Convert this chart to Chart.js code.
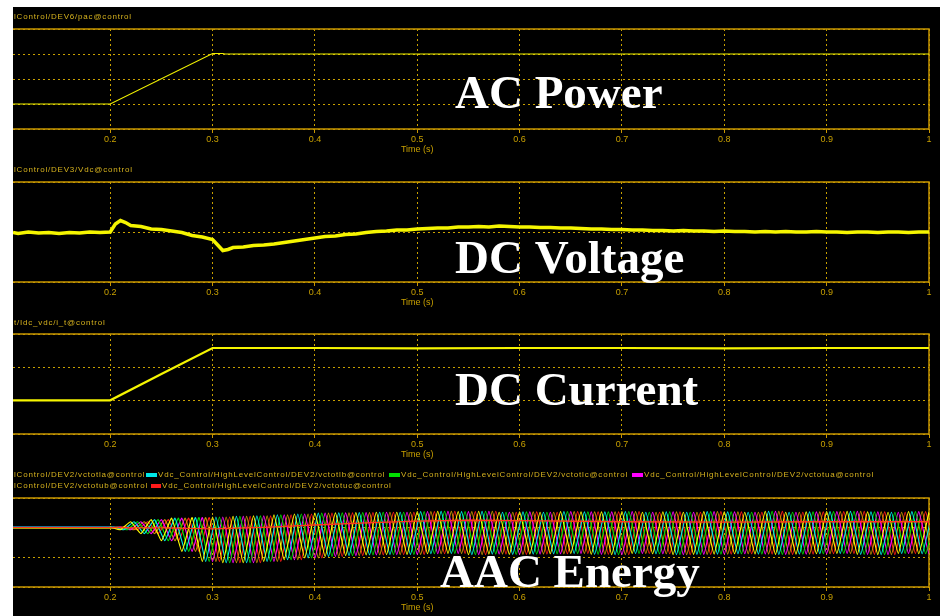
<!DOCTYPE html>
<html>
<head>
<meta charset="utf-8">
<script src="https://cdn.jsdelivr.net/npm/chart.js@4.4.0/dist/chart.umd.min.js"></script>
<style>
  body { margin: 0; background: #fff; width: 941px; height: 616px; overflow: hidden; position: relative; font-family: 'Liberation Sans', Arial, sans-serif; }
  .scope { position: absolute; left: 13px; top: 7px; width: 927px; height: 609px; background: #000; }
  canvas { position: absolute; left: 0; }
  .sig { position: absolute; font-size: 8px; line-height: 10px; letter-spacing: 0.8px; color: #d6b21e; white-space: nowrap; }
  .swatch { position: absolute; height: 4px; width: 11px; }
</style>
</head>
<body>
<div class="scope"></div>

<canvas id="acPower" width="941" height="150" style="top:10px"></canvas>
<canvas id="dcVoltage" width="941" height="152" style="top:160px"></canvas>
<canvas id="dcCurrent" width="941" height="152" style="top:312px"></canvas>
<canvas id="aacEnergy" width="941" height="152" style="top:464px"></canvas>

<div class="sig" style="left:14px;top:12px">lControl/DEV6/pac@control</div>
<div class="sig" style="left:14px;top:165px">lControl/DEV3/Vdc@control</div>
<div class="sig" style="left:14px;top:318px">t/Idc_vdc/i_t@control</div>

<div class="sig" style="left:14px;top:470px">lControl/DEV2/vctotla@control</div>
<div class="swatch" style="left:146px;top:473px;background:#00e8e8"></div>
<div class="sig" style="left:158px;top:470px">Vdc_Control/HighLevelControl/DEV2/vctotlb@control</div>
<div class="swatch" style="left:389px;top:473px;background:#00e000"></div>
<div class="sig" style="left:401px;top:470px">Vdc_Control/HighLevelControl/DEV2/vctotlc@control</div>
<div class="swatch" style="left:632px;top:473px;background:#ff00ff"></div>
<div class="sig" style="left:644px;top:470px">Vdc_Control/HighLevelControl/DEV2/vctotua@control</div>
<div class="sig" style="left:14px;top:481px">lControl/DEV2/vctotub@control</div>
<div class="swatch" style="left:151px;top:484px;width:10px;background:#ff1a1a"></div>
<div class="sig" style="left:162px;top:481px">Vdc_Control/HighLevelControl/DEV2/vctotuc@control</div>

<script>
// Time axis
const xTicks = [0.2, 0.3, 0.4, 0.5, 0.6, 0.7, 0.8, 0.9, 1.0]
const xTickLabels = ['0.2', '0.3', '0.4', '0.5', '0.6', '0.7', '0.8', '0.9', '1']

// AC power
const acTime = [0.105, 0.2, 0.3, 0.31, 0.312, 1.0]
const acValues = [1.0, 1.0, 3.02, 3.02, 3.0, 3.0]

// DC voltage
const vdcTime = [0.105, 0.11, 0.12, 0.13, 0.14, 0.15, 0.16, 0.17, 0.18, 0.19,
  0.2, 0.205, 0.21, 0.215, 0.22, 0.23, 0.24, 0.25, 0.26, 0.27, 0.28, 0.29,
  0.3, 0.305, 0.31, 0.315, 0.32, 0.33, 0.34, 0.35, 0.36, 0.37, 0.38, 0.39,
  0.4, 0.41, 0.42, 0.43, 0.44, 0.45, 0.46, 0.47, 0.48, 0.49,
  0.5, 0.51, 0.52, 0.53, 0.54, 0.55, 0.56, 0.57, 0.58, 0.59,
  0.6, 0.61, 0.62, 0.63, 0.64, 0.65, 0.66, 0.67, 0.68, 0.69,
  0.7, 0.71, 0.72, 0.73, 0.74, 0.75, 0.76, 0.77, 0.78, 0.79,
  0.8, 0.81, 0.82, 0.83, 0.84, 0.85, 0.86, 0.87, 0.88, 0.89,
  0.9, 0.91, 0.92, 0.93, 0.94, 0.95, 0.96, 0.97, 0.98, 0.99, 1.0]
const vdcValues = [0.99, 0.97, 1.0, 0.98, 0.99, 0.97, 0.99, 0.98, 1.0, 0.99,
  1.0, 1.16, 1.23, 1.19, 1.13, 1.11, 1.06, 1.05, 1.02, 0.99, 0.93, 0.9,
  0.85, 0.74, 0.63, 0.65, 0.69, 0.7, 0.73, 0.74, 0.76, 0.79, 0.82, 0.85,
  0.88, 0.91, 0.92, 0.95, 0.96, 0.99, 1.01, 1.02, 1.04, 1.04,
  1.06, 1.07, 1.08, 1.08, 1.1, 1.1, 1.11, 1.1, 1.12, 1.11,
  1.1, 1.1, 1.09, 1.09, 1.08, 1.08, 1.07, 1.06, 1.06, 1.05,
  1.05, 1.04, 1.04, 1.03, 1.03, 1.02, 1.03, 1.02, 1.02, 1.01,
  1.02, 1.01, 1.01, 1.0, 1.01, 1.0, 1.01, 1.0, 1.0, 1.01,
  1.0, 1.0, 0.99, 1.0, 1.0, 0.99, 1.0, 1.0, 0.99, 1.0, 1.0]

// DC current
const idcTime = [0.105, 0.15, 0.2, 0.25, 0.3, 0.4, 0.5, 0.6, 0.7, 0.8, 0.9, 1.0]
const idcValues = [1.01, 1.01, 1.01, 1.8, 2.58, 2.58, 2.57, 2.58, 2.58, 2.57, 2.58, 2.58]

// Arm energies: peak / trough envelope every half cycle (50 Hz)
const aacTime = [0.2, 0.21, 0.22, 0.23, 0.24, 0.25, 0.26, 0.27, 0.28, 0.29,
  0.3, 0.31, 0.32, 0.33, 0.34, 0.35, 0.36, 0.37, 0.38, 0.39,
  0.4, 0.41, 0.42, 0.43, 0.44, 0.45, 0.46, 0.47, 0.48, 0.49,
  0.5, 0.51, 0.52, 0.53, 0.54, 0.55, 0.56, 0.57, 0.58, 0.59,
  0.6, 0.61, 0.62, 0.63, 0.64, 0.65, 0.66, 0.67, 0.68, 0.69,
  0.7, 0.71, 0.72, 0.73, 0.74, 0.75, 0.76, 0.77, 0.78, 0.79,
  0.8, 0.81, 0.82, 0.83, 0.84, 0.85, 0.86, 0.87, 0.88, 0.89,
  0.9, 0.91, 0.92, 0.93, 0.94, 0.95, 0.96, 0.97, 0.98, 0.99, 1.0]
const aacUpper = [2.02, 2.14, 2.2, 2.23, 2.27, 2.3, 2.32, 2.33, 2.34, 2.35,
  2.36, 2.37, 2.38, 2.39, 2.4, 2.41, 2.43, 2.44, 2.46, 2.47,
  2.49, 2.5, 2.5, 2.51, 2.51, 2.52, 2.52, 2.53, 2.52, 2.53,
  2.54, 2.53, 2.55, 2.52, 2.54, 2.53, 2.55, 2.53, 2.52, 2.54,
  2.53, 2.55, 2.52, 2.53, 2.54, 2.52, 2.53, 2.55, 2.53, 2.52,
  2.54, 2.53, 2.52, 2.54, 2.53, 2.55, 2.52, 2.53, 2.54, 2.52,
  2.53, 2.54, 2.52, 2.53, 2.55, 2.53, 2.52, 2.54, 2.53, 2.52,
  2.54, 2.53, 2.55, 2.52, 2.53, 2.54, 2.52, 2.53, 2.54, 2.53, 2.52]
const aacLower = [1.98, 1.93, 1.88, 1.8, 1.7, 1.56, 1.4, 1.2, 1.0, 0.86,
  0.83, 0.82, 0.81, 0.82, 0.84, 0.86, 0.89, 0.92, 0.95, 0.98,
  1.01, 1.03, 1.04, 1.06, 1.07, 1.08, 1.09, 1.09, 1.1, 1.1,
  1.11, 1.12, 1.1, 1.13, 1.11, 1.09, 1.12, 1.11, 1.13, 1.1,
  1.12, 1.11, 1.09, 1.12, 1.1, 1.13, 1.11, 1.1, 1.12, 1.09,
  1.11, 1.13, 1.1, 1.12, 1.11, 1.09, 1.12, 1.1, 1.13, 1.11,
  1.1, 1.12, 1.09, 1.11, 1.13, 1.1, 1.12, 1.11, 1.09, 1.12,
  1.1, 1.13, 1.11, 1.1, 1.12, 1.09, 1.11, 1.13, 1.1, 1.12, 1.11]
const aacNames = ['vctotla', 'vctotlb', 'vctotlc', 'vctotua', 'vctotub', 'vctotuc']
const aacColors = ['#ffff00', '#00e8e8', '#00e000', '#ff00ff', '#c89600', '#ff1a1a']
const aacPhase = [0, 0.0033, 0.0067, 0.01, 0.0133, 0.0167]
const aacFlat = [2.0, 2.02, 1.99, 2.01, 1.98, 2.0]
const aacMeanTime = [0.105, 0.2, 0.25, 0.3, 0.35, 0.4, 0.45, 0.5, 0.55, 0.6, 0.7, 0.8, 0.9, 1.0]
const aacMean = [2.0, 2.0, 1.99, 1.96, 2.01, 2.09, 2.16, 2.22, 2.25, 2.24, 2.2, 2.19, 2.2, 2.2]

const frameGold = '#c89600'
const gridGold = '#c8a000'
const tickGold = '#c8a000'

const toPoints = (xs, ys) => xs.map((x, i) => ({ x, y: ys[i] }))

function aacSeries(k) {
  const pts = [{ x: 0.105, y: aacFlat[k] }, { x: 0.2, y: aacFlat[k] }]
  aacTime.forEach((t, i) => {
    pts.push({ x: t + aacPhase[k], y: i % 2 === 0 ? aacUpper[i] : aacLower[i] })
  })
  return pts
}

// Frame, time label and big caption
const scopeDecor = {
  id: 'scopeDecor',
  beforeDatasetsDraw(chart) {
    const { ctx, chartArea: a } = chart
    ctx.save()
    ctx.strokeStyle = frameGold
    ctx.lineWidth = 1.5
    ctx.beginPath()
    ctx.moveTo(a.left, a.top)
    ctx.lineTo(a.right, a.top)
    ctx.lineTo(a.right, a.bottom)
    ctx.lineTo(a.left, a.bottom)
    ctx.stroke()
    ctx.restore()
  },
  afterDraw(chart, args, opts) {
    const { ctx, chartArea: a, scales } = chart
    ctx.save()
    ctx.fillStyle = tickGold
    ctx.font = '9px "Liberation Sans", Arial, sans-serif'
    ctx.textAlign = 'center'
    ctx.textBaseline = 'middle'
    ctx.fillText('Time (s)', scales.x.getPixelForValue(0.5), a.bottom + 21)
    ctx.fillStyle = '#ffffff'
    ctx.font = 'bold 47px "Liberation Serif", "Times New Roman", serif'
    ctx.textAlign = 'left'
    ctx.textBaseline = 'alphabetic'
    ctx.fillText(opts.caption, opts.captionX, opts.captionY)
    ctx.restore()
  }
}

function scopeOptions(yMax, boxTop, axisHeight, caption, captionX, captionY) {
  return {
    responsive: false,
    animation: false,
    layout: { padding: { top: boxTop, left: 13, right: 12, bottom: 0 } },
    plugins: {
      legend: { display: false },
      tooltip: { enabled: false },
      scopeDecor: { caption, captionX, captionY }
    },
    elements: { point: { radius: 0 } },
    scales: {
      x: {
        type: 'linear',
        min: 0.105,
        max: 1,
        afterBuildTicks: (axis) => {
          axis.ticks = xTicks.map((v) => ({ value: v }))
        },
        afterFit: (axis) => {
          axis.height = axisHeight
        },
        ticks: {
          color: tickGold,
          font: { size: 9, family: '"Liberation Sans", Arial, sans-serif' },
          padding: 1,
          maxRotation: 0,
          autoSkip: false,
          callback: (v, i) => xTickLabels[i]
        },
        grid: { color: gridGold, tickLength: 4, tickColor: frameGold, tickBorderDash: [] },
        border: { display: false, dash: [2, 3] }
      },
      y: {
        min: 0,
        max: yMax,
        afterFit: (axis) => {
          axis.width = 0
        },
        ticks: { display: false, stepSize: 1 },
        grid: { color: gridGold, drawTicks: false },
        border: { display: false, dash: [2, 3] }
      }
    }
  }
}

new Chart(document.getElementById('acPower'), {
  type: 'line',
  data: {
    datasets: [{ label: 'pac', data: toPoints(acTime, acValues), borderColor: '#f0f000', borderWidth: 1.2 }]
  },
  options: scopeOptions(4, 19, 31, 'AC Power', 455, 98),
  plugins: [scopeDecor]
})

new Chart(document.getElementById('dcVoltage'), {
  type: 'line',
  data: {
    datasets: [{ label: 'Vdc', data: toPoints(vdcTime, vdcValues), borderColor: '#f5f500', borderWidth: 3.5 }]
  },
  options: scopeOptions(2, 22, 30, 'DC Voltage', 455, 113),
  plugins: [scopeDecor]
})

new Chart(document.getElementById('dcCurrent'), {
  type: 'line',
  data: {
    datasets: [{ label: 'i_t', data: toPoints(idcTime, idcValues), borderColor: '#f5f500', borderWidth: 2.2 }]
  },
  options: scopeOptions(3, 22, 30, 'DC Current', 455, 93),
  plugins: [scopeDecor]
})

const aacDatasets = [
  { label: 'mean', data: toPoints(aacMeanTime, aacMean), borderColor: '#ff3a1a', borderWidth: 1.3 }
]
aacNames.forEach((name, k) => {
  aacDatasets.push({ label: name, data: aacSeries(k), borderColor: aacColors[k], borderWidth: 1.2, tension: 0.12 })
})

new Chart(document.getElementById('aacEnergy'), {
  type: 'line',
  data: { datasets: aacDatasets },
  options: scopeOptions(3, 34, 29, 'AAC Energy', 440, 123),
  plugins: [scopeDecor]
})
</script>
</body>
</html>
